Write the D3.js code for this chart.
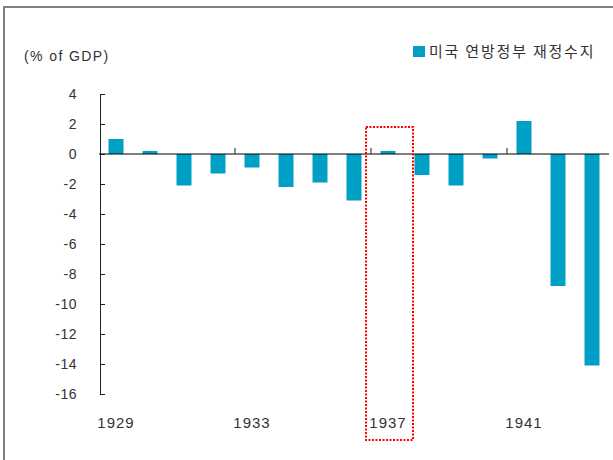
<!DOCTYPE html>
<html>
<head>
<meta charset="utf-8">
<script src="https://cdn.jsdelivr.net/npm/d3@7"></script>
<style>
    body { margin: 0; background: #fff; }
    text { font-family: "Liberation Sans", Arial, sans-serif; fill: #333; }
</style>
</head>
<body>
<div id="chart"></div>
<script>

// data
var years = [1929, 1930, 1931, 1932, 1933, 1934, 1935, 1936, 1937, 1938, 1939, 1940, 1941, 1942, 1943];
var balance = [1.0, 0.2, -2.1, -1.3, -0.9, -2.2, -1.9, -3.1, 0.2, -1.4, -2.1, -0.3, 2.2, -8.8, -14.1];
var yTicks = [4, 2, 0, -2, -4, -6, -8, -10, -12, -14, -16];
var yearLabels = [1929, 1933, 1937, 1941];
var highlightYear = 1937;
var seriesName = "미국 연방정부 재정수지";
var unitLabel = "(% of GDP)";

var W = 613, H = 460;
var barColor = "#00a0c6";

var svg = d3.select("#chart").append("svg")
    .attr("width", W)
    .attr("height", H);

// outer frame (only top and left edges are inside the picture)
svg.append("rect")
    .attr("x", 4).attr("y", 7)
    .attr("width", 700).attr("height", 600)
    .attr("fill", "none")
    .attr("stroke", "#808080")
    .attr("stroke-width", 2);

// scales
var x = d3.scaleBand()
    .domain(years)
    .range([99, 609])
    .paddingInner(0.56)
    .paddingOuter(0.28);

var y = d3.scaleLinear()
    .domain([4, -16])
    .range([94, 394]);

var halfGap = x.step() * x.paddingInner() / 2;

// bars
svg.selectAll(".bar")
    .data(years)
    .enter().append("rect")
    .attr("class", "bar")
    .attr("x", function(d) { return x(d); })
    .attr("width", x.bandwidth())
    .attr("y", function(d, i) { return y(Math.max(0, balance[i])); })
    .attr("height", function(d, i) { return Math.abs(y(balance[i]) - y(0)); })
    .attr("fill", barColor);

// y axis
var yAxis = svg.append("g")
    .attr("transform", "translate(" + 100 + ",0)")
    .call(d3.axisLeft(y)
        .tickValues(yTicks)
        .tickSizeInner(-5)
        .tickSizeOuter(0)
        .tickPadding(23)
        .tickFormat(function(d) { return d < 0 ? "-" + Math.abs(d) : d; }));

yAxis.select(".domain").attr("stroke", "#222");
yAxis.selectAll(".tick line").attr("stroke", "#222");
yAxis.selectAll(".tick text")
    .attr("fill", "#333")
    .style("font-size", "14px")
    .style("letter-spacing", "0.5px")
    .style("font-family", "'Liberation Sans', Arial, sans-serif");

// zero line (drawn over the bars)
svg.append("line")
    .attr("x1", x.range()[0])
    .attr("x2", x.range()[1])
    .attr("y1", y(0))
    .attr("y2", y(0))
    .attr("stroke", "#000")
    .attr("stroke-opacity", 0.5)
    .attr("stroke-width", 2);

// group ticks every 4 years
svg.selectAll(".gtick")
    .data(yearLabels.slice(1))
    .enter().append("line")
    .attr("class", "gtick")
    .attr("x1", function(d) { return x(d) - halfGap; })
    .attr("x2", function(d) { return x(d) - halfGap; })
    .attr("y1", y(0))
    .attr("y2", y(0) - 6)
    .attr("stroke", "#444")
    .attr("stroke-width", 1.2);

// year labels
svg.selectAll(".year")
    .data(yearLabels)
    .enter().append("text")
    .attr("class", "year")
    .attr("x", function(d) { return x(d) + x.bandwidth() / 2; })
    .attr("y", 428)
    .attr("text-anchor", "middle")
    .style("font-size", "15px")
    .style("letter-spacing", "1px")
    .text(function(d) { return d; });

// unit label
svg.append("text")
    .attr("x", 24)
    .attr("y", 61)
    .style("font-size", "14px")
    .style("letter-spacing", "1.4px")
    .text(unitLabel);

// legend
svg.append("rect")
    .attr("x", 413).attr("y", 46)
    .attr("width", 12).attr("height", 11)
    .attr("fill", barColor);

svg.append("text")
    .attr("x", 429)
    .attr("y", 57)
    .style("font-family", "'Noto Sans CJK KR', sans-serif")
    .style("font-size", "15px")
    .style("letter-spacing", "1.8px")
    .text(seriesName);

// highlight box around 1937
svg.append("rect")
    .attr("x", x(highlightYear) - halfGap - 5)
    .attr("y", 127)
    .attr("width", x.step() + 13)
    .attr("height", 313)
    .attr("fill", "none")
    .attr("stroke", "#ff0000")
    .attr("stroke-width", 2)
    .attr("stroke-dasharray", "2,1.5");

</script>
</body>
</html>
